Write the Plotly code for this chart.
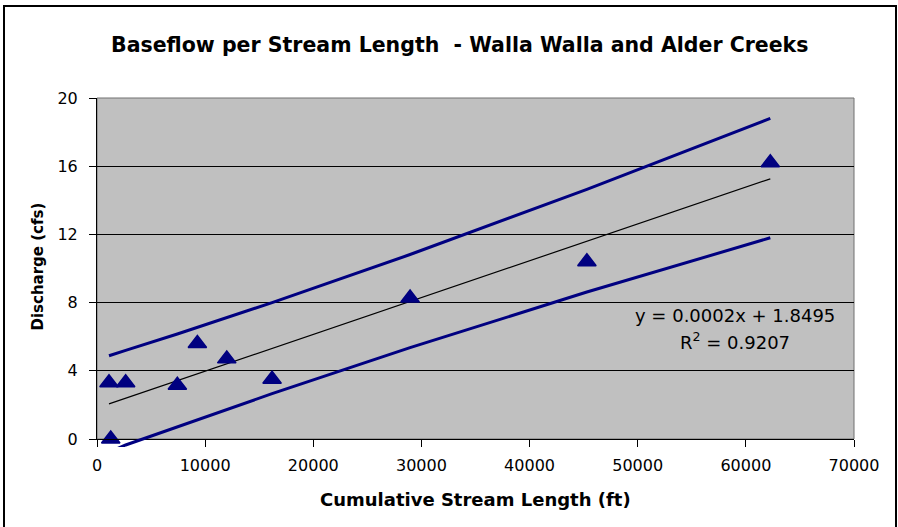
import numpy as np
import plotly.graph_objects as go

# ---- data ----
stream_length_ft = [1110, 1270, 2650, 7430, 9280, 12000, 16190, 28950, 45300, 62260]
discharge_cfs = [3.3, 0.0, 3.3, 3.15, 5.6, 4.7, 3.5, 8.27, 10.4, 16.2]
upper_band = [4.88, 4.91, 5.20, 6.16, 6.54, 7.11, 8.00, 10.82, 14.64, 18.80]
lower_band = [-0.76, -0.73, -0.35, 0.70, 1.12, 1.73, 2.66, 5.36, 8.62, 11.80]
x_ticks = [0, 10000, 20000, 30000, 40000, 50000, 60000, 70000]
y_ticks = [0, 4, 8, 12, 16, 20]

title_text = "Baseflow per Stream Length  - Walla Walla and Alder Creeks"
x_title = "Cumulative Stream Length (ft)"
y_title = "Discharge (cfs)"
eq_line1 = "y = 0.0002x + 1.8495"
eq_line2 = "R<sup>2</sup> = 0.9207"

# trend line (least squares on the data)
slope, intercept = np.polyfit(stream_length_ft, discharge_cfs, 1)
trend_x = [stream_length_ft[0], stream_length_ft[-1]]
trend_y = [slope * v + intercept for v in trend_x]

# ---- layout geometry (pixels) ----
W, H = 898, 527
L, R = 97, 854          # plot left / right
TOP, BOT0, BOT2 = 98, 439, 447   # top, y=0 line, extended bottom
NAVY = "#000080"
FONT = "DejaVu Sans"

main_dom0 = (BOT2 - BOT0) / (BOT2 - TOP)
y2_min = -20 * (BOT2 - BOT0) / (BOT0 - TOP)


def px(xp):
    return (xp - L) / (R - L)


def py(yp):
    return (BOT2 - yp) / (BOT2 - TOP)


fig = go.Figure()

fig.add_trace(go.Scatter(x=stream_length_ft, y=upper_band, mode="lines",
                         line=dict(color=NAVY, width=3), hoverinfo="skip"))
fig.add_trace(go.Scatter(x=stream_length_ft, y=lower_band, mode="lines",
                         line=dict(color=NAVY, width=3), yaxis="y2", hoverinfo="skip"))
fig.add_trace(go.Scatter(x=trend_x, y=trend_y, mode="lines",
                         line=dict(color="black", width=1.2), hoverinfo="skip"))
fig.add_trace(go.Scatter(x=stream_length_ft, y=discharge_cfs, mode="markers",
                         marker=dict(symbol="triangle-up", size=16, color=NAVY,
                                     line=dict(color=NAVY, width=1.5)),
                         cliponaxis=False))

fig.update_layout(
    width=W, height=H,
    margin=dict(l=L, r=W - R, t=TOP, b=H - BOT2, pad=0),
    paper_bgcolor="white",
    plot_bgcolor="rgba(0,0,0,0)",
    showlegend=False,
    font=dict(family=FONT, size=16, color="black"),
    xaxis=dict(range=[0, 70000], tickvals=x_ticks, ticktext=[str(v) for v in x_ticks],
               showgrid=False, zeroline=False, showline=True, linecolor="black",
               linewidth=1, ticks="outside", ticklen=7, tickcolor="black",
               tickfont=dict(size=16), anchor="y", ticklabelstandoff=5),
    yaxis=dict(range=[0, 20], domain=[main_dom0, 1], tickvals=y_ticks,
               showgrid=True, gridcolor="black", gridwidth=1, zeroline=False,
               showline=True, linecolor="black", linewidth=1, ticks="outside",
               ticklen=7, tickcolor="black", tickfont=dict(size=16), anchor="x",
               ticklabelstandoff=8),
    yaxis2=dict(range=[y2_min, 20], domain=[0, 1], visible=False, showgrid=False,
                zeroline=False, anchor="x"),
    shapes=[
        dict(type="rect", xref="x domain", yref="y domain", x0=0, x1=1, y0=0, y1=1,
             fillcolor="#C0C0C0", line=dict(color="#707070", width=1), layer="below"),
        dict(type="rect", xref="paper", yref="paper", x0=px(4), x1=px(896),
             y0=py(531), y1=py(6), line=dict(color="black", width=2),
             fillcolor="rgba(0,0,0,0)", layer="above"),
    ],
    annotations=[
        dict(text="<b>" + title_text + "</b>", xref="paper", yref="paper",
             x=px(459.5), y=py(45), xanchor="center", yanchor="middle",
             showarrow=False, font=dict(size=20.5)),
        dict(text="<b>" + x_title + "</b>", xref="paper", yref="paper",
             x=px(475), y=py(499), xanchor="center", yanchor="middle",
             showarrow=False, font=dict(size=18)),
        dict(text="<b>" + y_title + "</b>", xref="paper", yref="paper",
             x=px(37), y=py(266.5), xanchor="center", yanchor="middle",
             textangle=-90, showarrow=False, font=dict(size=15)),
        dict(text=eq_line1, xref="paper", yref="paper", x=px(735), y=py(315),
             xanchor="center", yanchor="middle", showarrow=False, font=dict(size=18)),
        dict(text=eq_line2, xref="paper", yref="paper", x=px(735), y=py(341),
             xanchor="center", yanchor="middle", showarrow=False, font=dict(size=18)),
    ],
)

fig.write_html("out.html",
               config={"displayModeBar": False, "staticPlot": True},
               post_script="document.body.style.margin='0px';"
                           "document.body.style.overflow='hidden';")
